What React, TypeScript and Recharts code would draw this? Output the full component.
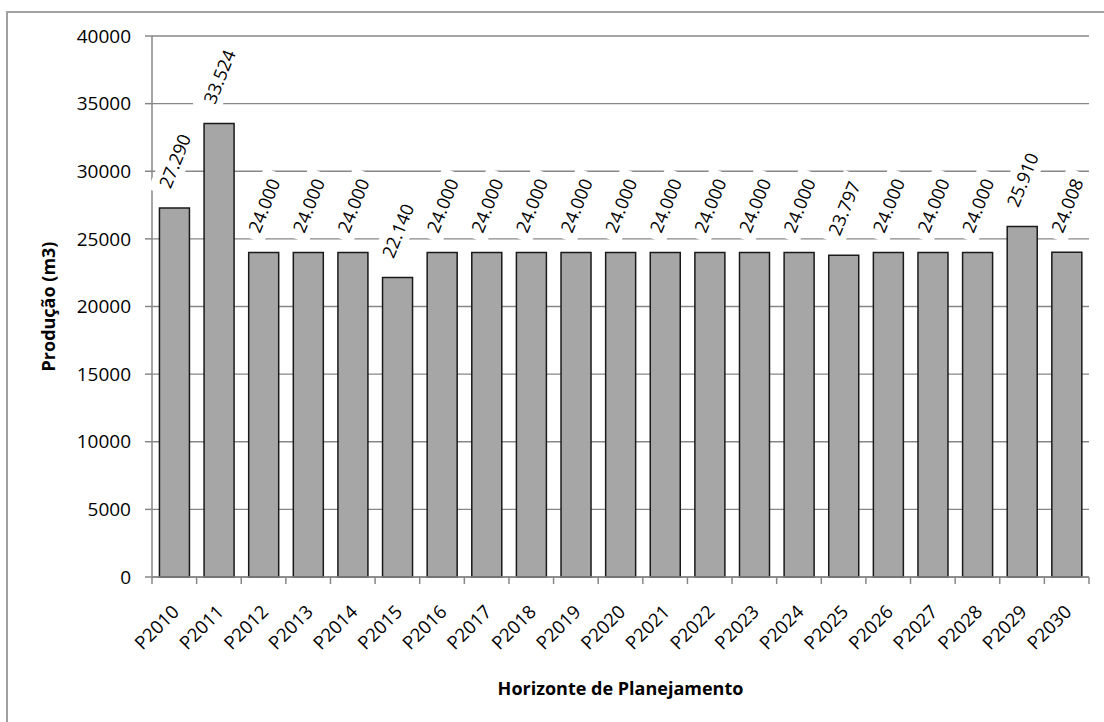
import React from 'react';
import { BarChart, Bar, XAxis, YAxis, CartesianGrid, LabelList } from 'recharts';

// Planned production per period (m3)
const periods = [
  'P2010', 'P2011', 'P2012', 'P2013', 'P2014', 'P2015', 'P2016', 'P2017', 'P2018', 'P2019', 'P2020',
  'P2021', 'P2022', 'P2023', 'P2024', 'P2025', 'P2026', 'P2027', 'P2028', 'P2029', 'P2030',
];
const production = [
  27290, 33524, 24000, 24000, 24000, 22140, 24000, 24000, 24000, 24000, 24000,
  24000, 24000, 24000, 24000, 23797, 24000, 24000, 24000, 25910, 24008,
];
const yTicks = [0, 5000, 10000, 15000, 20000, 25000, 30000, 35000, 40000];

const data = periods.map((period, i) => ({ period, value: production[i] }));

const FONT = '"Open Sans", "Noto Sans", sans-serif';
const GRID = '#878787';
const BAR_FILL = '#a6a6a6';

// 27290 -> "27.290"
const formatThousands = (v: number) => {
  const s = String(Math.round(v));
  return s.replace(/\B(?=(\d{3})+(?!\d))/g, '.');
};

const CategoryTick = (props: any) => {
  const { x, y, payload, index } = props;
  const half = payload && payload.offset ? payload.offset : 22.3;
  const ax = x + 6;
  const ay = y + 36;
  return (
    <g>
      {index === 0 && (
        <line x1={x - half} y1={y} x2={x - half} y2={y + 7} stroke={GRID} strokeWidth={1.5} />
      )}
      <line x1={x + half} y1={y} x2={x + half} y2={y + 7} stroke={GRID} strokeWidth={1.5} />
      <text
        x={ax}
        y={ay}
        transform={`rotate(-45, ${ax}, ${ay})`}
        textAnchor="end"
        fill="#000"
        fontSize={18.5}
        fontFamily={FONT}
      >
        {payload.value}
      </text>
    </g>
  );
};

const ValueLabel = (props: any) => {
  const { x, y, width, value } = props;
  const cx = x + width / 2;
  const cy = y - 47;
  const text = formatThousands(value);
  const fs = 18;
  const tw = text.length * fs * 0.53;
  const bw = tw + 14;
  const bh = 28;
  return (
    <g transform={`translate(${cx}, ${cy}) rotate(-68)`}>
      <rect x={-bw / 2} y={-bh / 2} width={bw} height={bh} fill="#fff" />
      <text
        x={0}
        y={0}
        textAnchor="middle"
        dominantBaseline="central"
        fill="#000"
        fontSize={fs}
        fontFamily={FONT}
      >
        {text}
      </text>
    </g>
  );
};

export default function App() {
  return (
    <div
      style={{
        position: 'absolute',
        left: 0,
        top: 0,
        width: 1104,
        height: 722,
        overflow: 'hidden',
        background: '#fff',
      }}
    >
      <div
        style={{
          position: 'absolute',
          left: 6,
          top: 11,
          width: 1300,
          height: 900,
          borderLeft: '2px solid #a0a0a0',
          borderTop: '2px solid #a0a0a0',
        }}
      />
      <div style={{ position: 'absolute', left: 0, top: 0 }}>
        <BarChart
          width={1104}
          height={722}
          data={data}
          margin={{ top: 36, right: 15, bottom: 0, left: 0 }}
          barCategoryGap="16.7%"
        >
          <CartesianGrid vertical={false} stroke={GRID} strokeWidth={1.4} />
          <XAxis
            dataKey="period"
            height={145}
            interval={0}
            tickLine={false}
            tickSize={0}
            tickMargin={0}
            axisLine={{ stroke: GRID, strokeWidth: 1.5 }}
            tick={<CategoryTick />}
            label={{
              value: 'Horizonte de Planejamento',
              position: 'insideBottom',
              offset: 27,
              fill: '#000',
              fontSize: 18,
              fontWeight: 'bold',
              fontFamily: FONT,
            }}
          />
          <YAxis
            width={152}
            domain={[0, 40000]}
            ticks={yTicks}
            interval={0}
            tickSize={7}
            tickMargin={14}
            tickLine={{ stroke: GRID, strokeWidth: 1.5 }}
            axisLine={{ stroke: GRID, strokeWidth: 1.5 }}
            tick={{ fill: '#000', fontSize: 19, fontFamily: FONT }}
            label={{
              value: 'Produção (m3)',
              angle: -90,
              position: 'center',
              dx: -27,
              fill: '#000',
              fontSize: 18,
              fontWeight: 'bold',
              fontFamily: FONT,
            }}
          />
          <Bar
            dataKey="value"
            fill={BAR_FILL}
            stroke="#1a1a1a"
            strokeWidth={1.5}
            isAnimationActive={false}
          >
            <LabelList dataKey="value" content={<ValueLabel />} />
          </Bar>
        </BarChart>
      </div>
    </div>
  );
}
